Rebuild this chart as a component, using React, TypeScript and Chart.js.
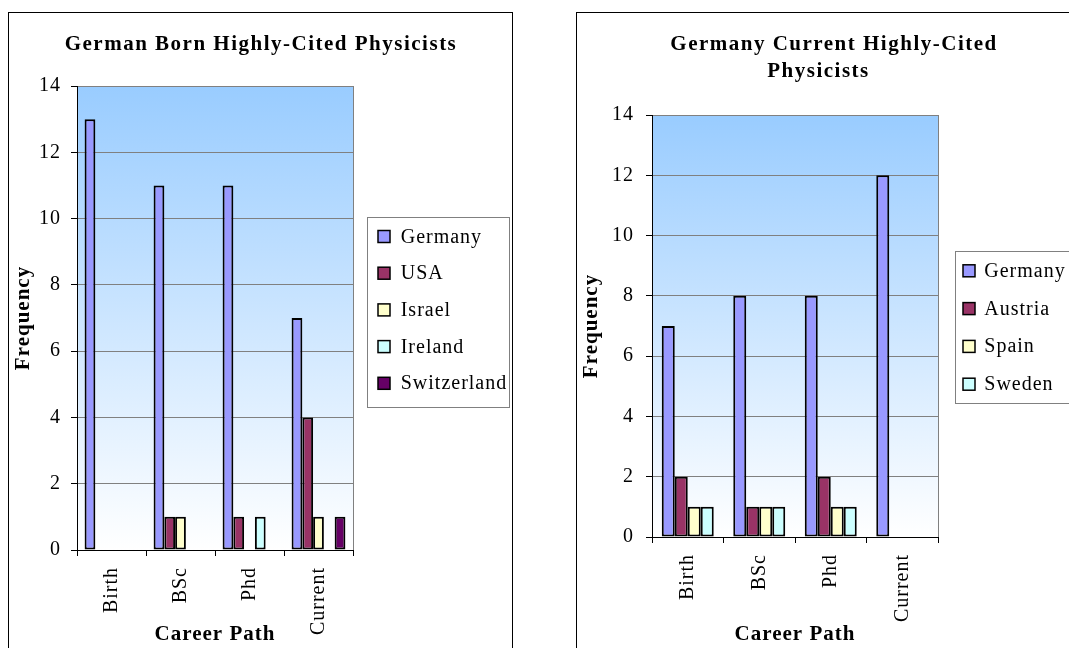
import React, { useEffect, useRef } from "react";
import { Chart, registerables } from "chart.js";

Chart.register(...registerables);

// ---------- data ----------
const categories = ["Birth", "BSc", "Phd", "Current"];

const bornTitle = ["German Born Highly-Cited Physicists"];
const bornSeriesNames = ["Germany", "USA", "Israel", "Ireland", "Switzerland"];
const bornGermany = [13, 11, 11, 7];
const bornUSA = [0, 1, 1, 4];
const bornIsrael = [0, 1, 0, 1];
const bornIreland = [0, 0, 1, 0];
const bornSwitzerland = [0, 0, 0, 1];

const currentTitle = ["Germany Current Highly-Cited", "Physicists"];
const currentSeriesNames = ["Germany", "Austria", "Spain", "Sweden"];
const currentGermany = [7, 8, 8, 12];
const currentAustria = [2, 1, 2, 0];
const currentSpain = [1, 1, 1, 0];
const currentSweden = [1, 1, 1, 0];

const yMin = 0;
const yMax = 14;
const yStep = 2;
const xAxisTitle = "Career Path";
const yAxisTitle = "Frequency";

// ---------- styles ----------
const FONT = '"Liberation Serif", "Times New Roman", serif';
const bornColors = ["#9999FF", "#993366", "#FFFFCC", "#CCFFFF", "#660066"];
const currentColors = ["#9999FF", "#993366", "#FFFFCC", "#CCFFFF"];

type Panel = {
  left: number;
  top: number;
  width: number;
  height: number;
  area: { left: number; right: number; top: number; bottom: number };
  titleLines: string[];
  titlePos: { x: number; y: number }[];
  names: string[];
  values: number[][];
  colors: string[];
  categoryPercentage: number;
  yPad: number;
  legend: { x: number; y: number; w: number; h: number; markerX: number; firstY: number; step: number; textX: number };
};

const panels: Panel[] = [
  {
    left: 9,
    top: 13,
    width: 503,
    height: 635,
    area: { left: 68, right: 344, top: 73, bottom: 537 },
    titleLines: bornTitle,
    titlePos: [{ x: 252, y: 36.5 }],
    names: bornSeriesNames,
    values: [bornGermany, bornUSA, bornIsrael, bornIreland, bornSwitzerland],
    colors: bornColors,
    categoryPercentage: 0.78,
    yPad: 10,
    legend: { x: 358, y: 204, w: 142, h: 190, markerX: 369, firstY: 223.5, step: 36.7, textX: 391.7 },
  },
  {
    left: 577,
    top: 13,
    width: 492,
    height: 635,
    area: { left: 75, right: 361, top: 102, bottom: 524 },
    titleLines: currentTitle,
    titlePos: [
      { x: 257, y: 36.5 },
      { x: 241.5, y: 64.3 },
    ],
    names: currentSeriesNames,
    values: [currentGermany, currentAustria, currentSpain, currentSweden],
    colors: currentColors,
    categoryPercentage: 0.727,
    yPad: 12,
    legend: { x: 378, y: 238, w: 160, h: 152, markerX: 386, firstY: 257.8, step: 37.8, textX: 407.3 },
  },
];

function makePlugin(p: Panel) {
  return {
    id: "panelDecor",
    beforeLayout(chart: any) {
      chart.ctx.letterSpacing = "1px";
    },
    beforeDraw(chart: any) {
      const ctx = chart.ctx as CanvasRenderingContext2D;
      (ctx as any).letterSpacing = "1px";
      const { left, right, top, bottom } = chart.chartArea;
      ctx.save();
      const g = ctx.createLinearGradient(0, top, 0, bottom);
      g.addColorStop(0, "#99CCFF");
      g.addColorStop(1, "#FFFFFF");
      ctx.fillStyle = g;
      ctx.fillRect(left, top, right - left, bottom - top);
      ctx.strokeStyle = "#808080";
      ctx.lineWidth = 1;
      ctx.strokeRect(Math.round(left) + 0.5, Math.round(top) + 0.5, Math.round(right - left), Math.round(bottom - top));
      ctx.restore();
    },
    afterDraw(chart: any) {
      const ctx = chart.ctx as CanvasRenderingContext2D;
      ctx.save();
      // titles
      (ctx as any).letterSpacing = "1.5px";
      ctx.fillStyle = "#000";
      ctx.font = `bold 21px ${FONT}`;
      ctx.textAlign = "center";
      ctx.textBaseline = "alphabetic";
      p.titleLines.forEach((t, i) => {
        ctx.fillText(t, p.titlePos[i].x, p.titlePos[i].y);
      });
      // legend
      (ctx as any).letterSpacing = "1px";
      const lg = p.legend;
      ctx.fillStyle = "#FFFFFF";
      ctx.fillRect(lg.x, lg.y, lg.w, lg.h);
      ctx.strokeStyle = "#808080";
      ctx.lineWidth = 1;
      ctx.strokeRect(lg.x + 0.5, lg.y + 0.5, lg.w, lg.h);
      ctx.font = `20px ${FONT}`;
      ctx.textAlign = "left";
      chart.data.datasets.forEach((ds: any, i: number) => {
        const cy = lg.firstY + i * lg.step;
        ctx.fillStyle = ds.backgroundColor;
        ctx.fillRect(lg.markerX, cy - 6, 12, 12);
        ctx.strokeStyle = "#000";
        ctx.lineWidth = 1.5;
        ctx.strokeRect(lg.markerX, cy - 6, 12, 12);
        ctx.fillStyle = "#000";
        ctx.fillText(ds.label, lg.textX, cy + 6);
      });
      ctx.restore();
    },
  };
}

function PanelChart({ p }: { p: Panel }) {
  const ref = useRef<HTMLCanvasElement | null>(null);
  useEffect(() => {
    if (!ref.current) return;
    const chart = new Chart(ref.current, {
      type: "bar",
      data: {
        labels: categories,
        datasets: p.names.map((name, i) => ({
          label: name,
          data: p.values[i].map((v) => (v === 0 ? null : v)),
          backgroundColor: p.colors[i],
          borderColor: "#000",
          borderWidth: 2,
          borderSkipped: false,
          categoryPercentage: p.categoryPercentage,
          barPercentage: 1,
        })),
      },
      options: {
        animation: false,
        responsive: false,
        devicePixelRatio: 1,
        layout: {
          padding: { top: p.area.top, right: p.width - p.area.right, left: 0, bottom: 0 },
        },
        plugins: {
          legend: { display: false },
          title: { display: false },
          tooltip: { enabled: false },
        },
        scales: {
          x: {
            grid: { drawOnChartArea: false, drawTicks: true, tickLength: 6, tickColor: "#000", offset: true },
            border: { color: "#000", width: 1 },
            ticks: {
              minRotation: 90,
              maxRotation: 90,
              autoSkip: false,
              padding: 11,
              color: "#000",
              font: { family: FONT, size: 20 },
            },
            title: {
              display: true,
              text: xAxisTitle,
              color: "#000",
              font: { family: FONT, size: 21, weight: "bold" },
              padding: { top: 0, bottom: 1 },
            },
            afterFit: (s: any) => {
              s.height = p.height - p.area.bottom;
            },
          },
          y: {
            min: yMin,
            max: yMax,
            ticks: {
              stepSize: yStep,
              padding: p.yPad,
              color: "#000",
              font: { family: FONT, size: 20 },
            },
            grid: { color: "#808080", tickColor: "#000", tickLength: 6, lineWidth: 1 },
            border: { color: "#000", width: 1 },
            title: {
              display: true,
              text: yAxisTitle,
              color: "#000",
              font: { family: FONT, size: 21, weight: "bold" },
              padding: { top: 2.4, bottom: 0 },
            },
            afterFit: (s: any) => {
              s.width = p.area.left;
            },
          },
        },
      } as any,
      plugins: [makePlugin(p) as any],
    });
    return () => chart.destroy();
  }, [p]);
  return (
    <canvas
      ref={ref}
      width={p.width}
      height={p.height}
      style={{ position: "absolute", left: p.left, top: p.top, width: p.width, height: p.height }}
    />
  );
}

export default function App() {
  return (
    <div
      style={{
        position: "fixed",
        left: 0,
        top: 0,
        width: 1069,
        height: 648,
        overflow: "hidden",
        background: "#FFFFFF",
      }}
    >
      <div style={{ position: "absolute", left: 8, top: 12, width: 503, height: 700, border: "1px solid #000" }} />
      <div style={{ position: "absolute", left: 576, top: 12, width: 600, height: 700, border: "1px solid #000" }} />
      {panels.map((p, i) => (
        <PanelChart key={i} p={p} />
      ))}
    </div>
  );
}
